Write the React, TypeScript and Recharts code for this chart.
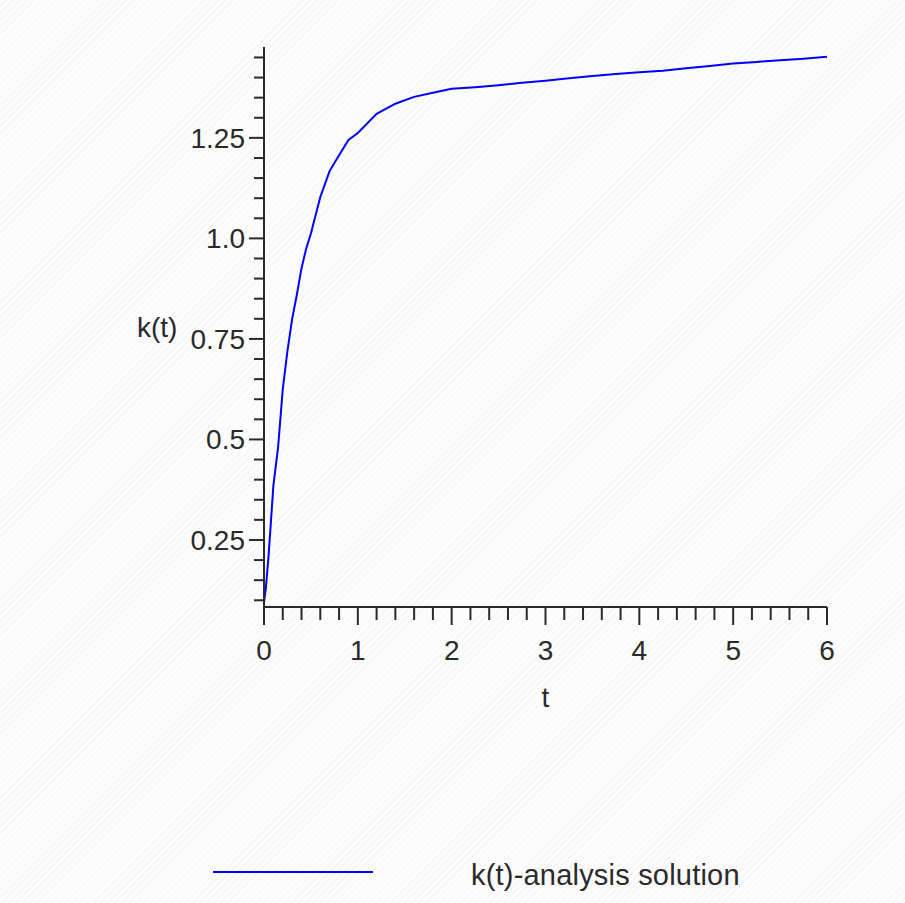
import React from 'react';
import { LineChart, Line, XAxis, YAxis, Legend } from 'recharts';

// t values and k(t)
const tValues = [0, 0.02, 0.05, 0.075, 0.1, 0.15, 0.2, 0.25, 0.3, 0.35, 0.4, 0.45, 0.5, 0.6, 0.7, 0.8, 0.9, 1.0, 1.2, 1.4, 1.6, 1.8, 2.0, 2.25, 2.5, 2.75, 3.0, 3.25, 3.5, 3.75, 4.0, 4.25, 4.5, 4.75, 5.0, 5.25, 5.5, 5.75, 6.0];
const kValues = [0.095, 0.13, 0.215, 0.3, 0.385, 0.48, 0.625, 0.72, 0.8, 0.86, 0.926, 0.975, 1.012, 1.103, 1.168, 1.207, 1.245, 1.262, 1.31, 1.335, 1.352, 1.362, 1.372, 1.376, 1.381, 1.387, 1.392, 1.398, 1.404, 1.409, 1.413, 1.417, 1.423, 1.429, 1.435, 1.439, 1.443, 1.447, 1.452];

const xTicks = [0, 0.2, 0.4, 0.6, 0.8, 1, 1.2, 1.4, 1.6, 1.8, 2, 2.2, 2.4, 2.6, 2.8, 3, 3.2, 3.4, 3.6, 3.8, 4, 4.2, 4.4, 4.6, 4.8, 5, 5.2, 5.4, 5.6, 5.8, 6];
const xLabels = [0, 1, 2, 3, 4, 5, 6];
const yTicks = [0.1, 0.15, 0.2, 0.25, 0.3, 0.35, 0.4, 0.45, 0.5, 0.55, 0.6, 0.65, 0.7, 0.75, 0.8, 0.85, 0.9, 0.95, 1.0, 1.05, 1.1, 1.15, 1.2, 1.25, 1.3, 1.35, 1.4, 1.45];
const yLabels = [0.25, 0.5, 0.75, 1.0, 1.25];
const yLabelText = ['0.25', '0.5', '0.75', '1.0', '1.25'];

const data = tValues.map((t, i) => ({ t, k: kValues[i] }));

const FONT = '"Liberation Sans", Arial, sans-serif';
const INK = '#2a2a2a';

const XTick = (props: any) => {
  const { x, y, payload } = props;
  const major = xLabels.includes(payload.value);
  return (
    <g>
      <line x1={x} x2={x} y1={y} y2={y + (major ? 18 : 13)} stroke={INK} strokeWidth={2} />
      {major && (
        <text x={x} y={y + 53} textAnchor="middle" fontSize={28} fontFamily={FONT} fill={INK}>
          {payload.value}
        </text>
      )}
    </g>
  );
};

const YTick = (props: any) => {
  const { x, y, payload } = props;
  const idx = yLabels.indexOf(payload.value);
  const major = idx >= 0;
  return (
    <g>
      <line x1={x - (major ? 15 : 10)} x2={x} y1={y} y2={y} stroke={INK} strokeWidth={2} />
      {major && (
        <text x={x - 19} y={y + 10} textAnchor="end" fontSize={28} fontFamily={FONT} fill={INK}>
          {yLabelText[idx]}
        </text>
      )}
    </g>
  );
};

const LegendBox = () => (
  <svg width={905} height={55}>
    <line x1={213} x2={373} y1={27} y2={27} stroke="#0000ff" strokeWidth={2} />
    <text x={471} y={40} fontSize={29} letterSpacing={0.2} fontFamily={FONT} fill={INK}>
      k(t)-analysis solution
    </text>
  </svg>
);

export default function App() {
  return (
    <div
      style={{
        position: 'absolute',
        left: 0,
        top: 0,
        width: 905,
        height: 903,
        background: 'repeating-linear-gradient(135deg, #fdfdfd 0px, #fdfdfd 4px, #f5f5f5 4px, #f5f5f5 5px)',
      }}
    >
      <LineChart width={905} height={903} data={data} margin={{ top: 47, right: 78, bottom: 186, left: 124 }}>
        <XAxis
          dataKey="t"
          type="number"
          domain={[0, 6]}
          ticks={xTicks}
          interval={0}
          tickSize={0}
          tickMargin={0}
          tickLine={false}
          tick={<XTick />}
          height={110}
          axisLine={{ stroke: INK, strokeWidth: 2 }}
          allowDataOverflow
          label={{ value: 't', position: 'insideBottom', offset: 10, fontSize: 28, fontFamily: FONT, fill: INK }}
        />
        <YAxis
          type="number"
          domain={[0.0833, 1.476]}
          ticks={yTicks}
          interval={0}
          tickSize={0}
          tickMargin={0}
          tickLine={false}
          tick={<YTick />}
          width={140}
          axisLine={{ stroke: INK, strokeWidth: 2 }}
          allowDataOverflow
          label={{ value: 'k(t)', position: 'insideLeft', offset: 13, fontSize: 28, fontFamily: FONT, fill: INK }}
        />
        <Legend
          layout="horizontal"
          verticalAlign="middle"
          align="center"
          content={<LegendBox />}
          wrapperStyle={{ position: 'absolute', left: 0, top: 845, width: 905, height: 55 }}
        />
        <Line
          type="linear"
          dataKey="k"
          stroke="#0000ff"
          strokeWidth={2}
          dot={false}
          activeDot={false}
          isAnimationActive={false}
        />
      </LineChart>
    </div>
  );
}
